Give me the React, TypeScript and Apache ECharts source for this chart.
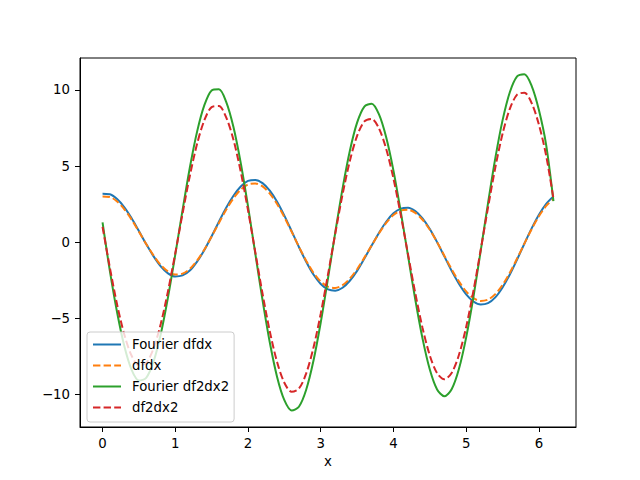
import { useEffect, useRef } from 'react';
import * as echarts from 'echarts';

const xValues = [
  0, 0.1, 0.2, 0.3, 0.4, 0.5, 0.6, 0.7, 0.8, 0.9,
  1.0, 1.1, 1.2, 1.3, 1.4, 1.5, 1.6, 1.7, 1.8, 1.9,
  2.0, 2.1, 2.2, 2.3, 2.4, 2.5, 2.6, 2.7, 2.8, 2.9,
  3.0, 3.1, 3.2, 3.3, 3.4, 3.5, 3.6, 3.7, 3.8, 3.9,
  4.0, 4.1, 4.2, 4.3, 4.4, 4.5, 4.6, 4.7, 4.8, 4.9,
  5.0, 5.1, 5.2, 5.3, 5.4, 5.5, 5.6, 5.7, 5.8, 5.9,
  6.0, 6.1, 6.2,
];

const fourierDfdx = [
  3.18, 3.15, 2.83, 2.29, 1.57, 0.73, -0.13, -0.92, -1.59, -2.05,
  -2.26, -2.19, -1.87, -1.28, -0.52, 0.39, 1.34, 2.26, 3.05, 3.66,
  4.02, 4.09, 3.88, 3.38, 2.65, 1.74, 0.72, -0.32, -1.29, -2.13,
  -2.75, -3.11, -3.19, -3.0, -2.54, -1.89, -1.08, -0.23, 0.6, 1.34,
  1.89, 2.2, 2.26, 2.04, 1.56, 0.86, 0.0, -0.94, -1.89, -2.73,
  -3.43, -3.9, -4.1, -4.01, -3.63, -2.98, -2.13, -1.14, -0.11, 0.9,
  1.8, 2.52, 3.0,
];

const dfdx = [
  3.0, 2.97, 2.67, 2.16, 1.48, 0.69, -0.12, -0.87, -1.5, -1.93,
  -2.13, -2.07, -1.76, -1.21, -0.49, 0.37, 1.26, 2.13, 2.88, 3.45,
  3.79, 3.86, 3.66, 3.19, 2.5, 1.64, 0.68, -0.3, -1.22, -2.01,
  -2.59, -2.93, -3.01, -2.83, -2.4, -1.78, -1.02, -0.22, 0.57, 1.26,
  1.78, 2.08, 2.13, 1.92, 1.47, 0.81, 0.0, -0.89, -1.78, -2.58,
  -3.24, -3.68, -3.87, -3.78, -3.42, -2.81, -2.01, -1.08, -0.1, 0.85,
  1.7, 2.38, 2.85,
];

const fourierDf2dx2 = [
  1.3, -1.87, -4.61, -6.85, -8.4, -9.1, -8.92, -7.87, -6.05, -3.62,
  -0.82, 2.1, 4.89, 7.26, 9.0, 9.97, 10.05, 9.22, 7.56, 5.2,
  2.36, -0.74, -3.81, -6.6, -8.86, -10.39, -11.06, -10.82, -9.7, -7.8,
  -5.28, -2.38, 0.64, 3.52, 5.99, 7.85, 8.91, 9.1, 8.41, 6.89,
  4.7, 2.01, -0.89, -3.77, -6.34, -8.37, -9.68, -10.13, -9.67, -8.34,
  -6.26, -3.59, -0.56, 2.55, 5.5, 8.0, 9.85, 10.89, 11.04, 10.27,
  8.68, 6.38, 2.7,
];

const df2dx2 = [
  1.0, -1.66, -4.1, -6.09, -7.47, -8.1, -7.94, -7.0, -5.38, -3.22,
  -0.73, 1.87, 4.35, 6.46, 8.01, 8.87, 8.94, 8.2, 6.73, 4.63,
  2.1, -0.66, -3.39, -5.87, -7.88, -9.24, -9.84, -9.63, -8.63, -6.94,
  -4.7, -2.12, 0.57, 3.13, 5.33, 6.98, 7.93, 8.1, 7.48, 6.13,
  4.18, 1.79, -0.79, -3.35, -5.64, -7.45, -8.61, -9.01, -8.6, -7.42,
  -5.57, -3.19, -0.5, 2.27, 4.89, 7.12, 8.76, 9.69, 9.82, 9.14,
  7.72, 5.68, 2.85,
];

const xTicks = [0, 1, 2, 3, 4, 5, 6];
const yTicks = [-10, -5, 0, 5, 10];

const seriesDefs = [
  { name: 'Fourier dfdx', values: fourierDfdx, color: '#1f77b4', dashed: false },
  { name: 'dfdx', values: dfdx, color: '#ff7f0e', dashed: true },
  { name: 'Fourier df2dx2', values: fourierDf2dx2, color: '#2ca02c', dashed: false },
  { name: 'df2dx2', values: df2dx2, color: '#d62728', dashed: true },
];

const FONT = 'DejaVu Sans';

export default function App() {
  const chartRef = useRef<HTMLDivElement>(null);

  useEffect(() => {
    document.body.style.margin = '0';
    if (!chartRef.current) return;
    const chart = echarts.init(chartRef.current, undefined, { renderer: 'svg' });

    const axisCommon = {
      type: 'value' as const,
      axisLine: { show: true, onZero: false, lineStyle: { color: '#000', width: 1 } },
      axisTick: { show: true, length: 5, lineStyle: { color: '#000', width: 1 } },
      splitLine: { show: false },
    };

    chart.setOption({
      animation: false,
      backgroundColor: '#fff',
      grid: {
        left: 80,
        right: 64,
        top: 58,
        bottom: 53,
        show: true,
        borderColor: '#000',
        borderWidth: 1,
        backgroundColor: 'transparent',
      },
      legend: {
        orient: 'vertical',
        left: 87,
        top: 332,
        itemWidth: 28,
        itemHeight: 14,
        itemGap: 8,
        padding: [6, 5, 8, 5],
        backgroundColor: 'rgba(255,255,255,0.8)',
        borderColor: '#cccccc',
        borderWidth: 1,
        borderRadius: 3,
        itemStyle: { opacity: 0 },
        textStyle: { color: '#000', fontSize: 13.3, fontFamily: FONT, padding: [0, 0, 0, 6] },
        data: seriesDefs.map((s) => s.name),
      },
      xAxis: {
        ...axisCommon,
        min: -0.31,
        max: 6.51,
        name: 'x',
        nameLocation: 'middle',
        nameGap: 28,
        nameTextStyle: { color: '#000', fontSize: 13.3, fontFamily: FONT },
        axisTick: { ...axisCommon.axisTick, customValues: xTicks },
        axisLabel: {
          color: '#000',
          fontSize: 13.3,
          fontFamily: FONT,
          margin: 10,
          customValues: xTicks,
        },
      },
      yAxis: {
        ...axisCommon,
        min: -12.15,
        max: 12.1,
        axisTick: { ...axisCommon.axisTick, customValues: yTicks },
        axisLabel: {
          color: '#000',
          fontSize: 13.3,
          fontFamily: FONT,
          margin: 10,
          customValues: yTicks,
          formatter: (v: number) => String(v).replace('-', '\u2212'),
        },
      },
      series: seriesDefs.map((s) => ({
        name: s.name,
        type: 'line',
        symbol: 'none',
        smooth: 0.3,
        data: xValues.map((x, i) => [x, s.values[i]]),
        lineStyle: {
          color: s.color,
          width: 2,
          type: s.dashed ? [7.4, 3.2] : 'solid',
        },
        itemStyle: { color: s.color },
      })),
    });

    return () => {
      chart.dispose();
    };
  }, []);

  return <div ref={chartRef} style={{ width: 640, height: 480 }} />;
}
